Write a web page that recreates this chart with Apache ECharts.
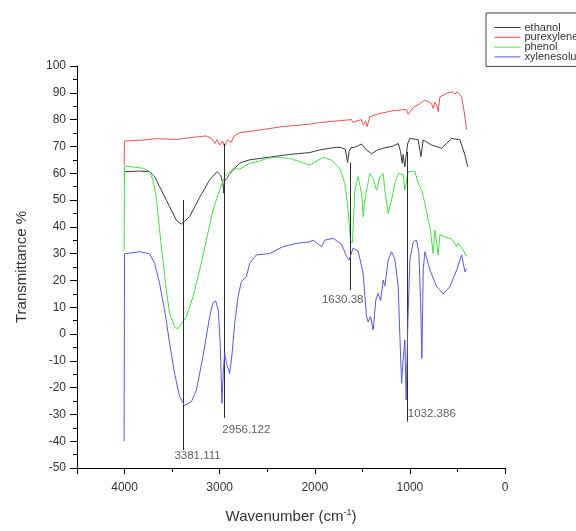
<!DOCTYPE html>
<html>
<head>
<meta charset="utf-8">
<script src="https://cdn.jsdelivr.net/npm/echarts@6/dist/echarts.min.js"></script>
<style>html,body{margin:0;padding:0;background:#fff}#c{width:576px;height:531px}</style>
</head>
<body>
<div id="c"></div>
<script>
// ---- data ----
var seriesNames = ['ethanol', 'purexylene', 'phenol', 'xylenesolu'];

var ethanolWn = [4005,4000,3850,3737,3680,3632,3526,3456,3403,3316,3210,3105,3028,2990,2965,2958,2950,2926,2900,2863,2789,2684,2474,2263,2053,1947,1772,1719,1680,1655,1640,1620,1579,1508,1456,1403,1351,1284,1179,1123,1098,1081,1071,1053,1024,1000,913,884,860,772,667,561,474,421,393];
var ethanolT  = [59.5,60.5,60.8,60.6,58.5,55,47.5,42.5,41,43.8,51,57.5,60.6,59.3,56,52.6,57,58,59.5,61,63.8,65,66,67,67.7,68.7,69.7,69.5,69,64,68,69.5,69.7,70.9,68.7,67.2,68.5,69.3,70.1,71.1,68,63.7,67,62.4,71,73,72.5,66.2,72.4,70.5,69.3,73,72.5,66.8,62.4];

var purexyleneWn = [4005,4000,3800,3660,3450,3280,3140,3085,3050,3030,3000,2970,2950,2915,2880,2845,2790,2580,2340,2050,1950,1740,1615,1600,1510,1490,1465,1450,1420,1315,1175,1035,1018,965,895,842,772,755,736,720,702,684,614,551,526,502,456,432,404];
var purexyleneT  = [63,72,72.4,72.9,72.6,73.4,73.9,73,71.1,72.5,70.5,72,70.1,72.5,71.5,74,75.1,76.1,77.4,78.3,78.9,79.6,80,79,80,78,79.5,77.4,81.1,82.3,83.3,83.8,82,84.5,86,87.3,86,84.2,86.5,85.5,83,88.5,89.8,90.4,89.5,90.4,88.5,83.6,76.3];

var phenolWn = [4005,4000,3800,3737,3702,3667,3632,3596,3561,3526,3474,3438,3350,3280,3210,3140,3070,3000,2947,2860,2790,2684,2580,2509,2400,2263,2158,2053,1912,1824,1737,1684,1649,1625,1605,1590,1579,1544,1508,1491,1474,1421,1386,1351,1316,1281,1263,1228,1193,1158,1123,1071,1053,1018,947,913,877,842,807,789,755,737,702,684,632,561,508,492,439,403];
var phenolT  = [31,62.7,61.8,60.6,57.5,51.2,38.8,27.6,16.4,7.7,2.7,1.9,6.5,13.9,23.9,35,46.3,53.7,58.7,61.8,61.5,63.7,64.5,65.5,66,65.5,64.3,63,65.9,64.9,61.8,56.2,46.3,35,34,45,53.7,58.7,52.5,43.8,50,59.9,58,53.7,58.5,59.9,53.7,45,50,56.2,59.9,59.5,53.7,60.6,60.6,56.2,53.7,48.8,42.5,40,30,38.8,29.5,37,36.3,35.5,32.6,34,31.3,28.9];

var xylenesoluWn = [4005,4000,3842,3737,3684,3632,3579,3526,3474,3421,3368,3298,3245,3176,3105,3071,3042,3014,2993,2976,2961,2947,2929,2913,2895,2871,2842,2807,2772,2719,2684,2614,2474,2334,2193,2053,2018,1929,1895,1807,1719,1666,1639,1597,1544,1492,1456,1439,1414,1386,1358,1334,1308,1281,1263,1228,1193,1158,1123,1105,1087,1071,1053,1039,1021,1000,965,930,905,887,874,860,842,825,789,719,649,579,508,456,421,403];
var xylenesoluT  = [-40,29.9,30.7,30,26.4,18.9,9,-3.5,-14.7,-23.4,-26.7,-25.3,-20.9,-8.5,6.5,11.7,12.4,9,-4.7,-25.9,-13.4,-7.2,-10.9,-11.5,-14.7,-8,4,13.9,19.5,21.4,26.4,29.5,30,32.6,33.8,34.4,35,32.6,35,35.7,33.5,28.9,27.6,32,31,22.6,6.5,4.5,6.5,1.5,12.7,15.2,12.5,20.1,18,27.6,30.7,28,17.7,-1,-18.4,-9.7,-2.2,-24.6,5.2,27.6,34.4,35,30.1,11.5,-9.1,23.9,30.7,30,23.9,17.7,14.9,17.7,23.9,29.5,23.2,24.5];

// peak annotations
var peakWn     = [3381.111, 2956.122, 1630.38, 1032.386];
var peakTop    = [50, 71, 64, 68];
var peakBottom = [-43.3, -31.3, 16.4, -32.7];

var xTicks = [0, 1000, 2000, 3000, 4000];

// ---- chart ----
var FONT = 'Liberation Sans, Arial, sans-serif';
function pairs(xs, ys) { return xs.map(function (x, i) { return [x, ys[i]]; }); }

var colors = ['#3a3a3a', 'rgb(232,82,82)', 'rgb(72,222,72)', 'rgb(88,88,218)'];
var wnArr = [ethanolWn, purexyleneWn, phenolWn, xylenesoluWn];
var tArr = [ethanolT, purexyleneT, phenolT, xylenesoluT];

var series = seriesNames.map(function (n, i) {
  return {
    name: n, type: 'line', data: pairs(wnArr[i], tArr[i]),
    symbol: 'none', showSymbol: false, smooth: false,
    lineStyle: { color: colors[i], width: 1 }, itemStyle: { color: colors[i] },
    z: 2 + i
  };
});

// drop lines
series.push({
  name: 'peaks', type: 'line', data: [], symbol: 'none', z: 10,
  markLine: {
    silent: true, symbol: 'none', animation: false,
    lineStyle: { color: '#2a2a2a', width: 1, type: 'solid' },
    label: { show: false },
    data: peakWn.map(function (w, i) { return [{ coord: [w, peakTop[i]] }, { coord: [w, peakBottom[i]] }]; })
  }
});
// peak labels
var labelOffsets = [[-9, 6], [-1.5, 12], [-28, 10], [1, -8]];
series.push({
  name: 'peakLabels', type: 'scatter', z: 11, symbolSize: 1,
  itemStyle: { color: 'rgba(0,0,0,0)' },
  data: peakWn.map(function (w, i) {
    return {
      value: [w, peakBottom[i]],
      label: { show: true, position: 'inside', align: 'left', verticalAlign: 'middle',
        offset: labelOffsets[i], formatter: String(w),
        color: '#333', fontSize: 11.5, fontFamily: FONT }
    };
  })
});

var chart = echarts.init(document.getElementById('c'), null, { renderer: 'canvas' });
chart.setOption({
  animation: false,
  backgroundColor: '#fff',
  grid: { left: 77, right: 71, top: 66, bottom: 63, containLabel: false },
  legend: {
    data: seriesNames, orient: 'vertical', left: 486, top: 13,
    itemWidth: 26, itemHeight: 9, itemGap: -1.2,
    padding: [9, 12, 4, 8],
    borderColor: '#444', borderWidth: 1,
    itemStyle: { opacity: 0 },
    lineStyle: { width: 1 },
    textStyle: { fontSize: 11, fontFamily: FONT, color: '#333', lineHeight: 9, padding: [0, 0, 0, -1] },
    selectedMode: false
  },
  xAxis: {
    type: 'value', min: 0, max: 4500, interval: 1000, inverse: true,
    name: '{n|Wavenumber (cm}{s|-1}{n|)}', nameLocation: 'middle', nameGap: 40,
    nameTextStyle: { rich: {
      n: { fontSize: 15, fontFamily: FONT, color: '#333' },
      s: { fontSize: 9, fontFamily: FONT, color: '#333', padding: [0, 0, 9, 0] }
    } },
    axisLine: { onZero: false, lineStyle: { color: '#000', width: 1 } },
    axisTick: { show: true, inside: false, length: 6, lineStyle: { color: '#000' } },
    minorTick: { show: true, splitNumber: 2, length: 4, lineStyle: { color: '#000' } },
    axisLabel: { fontSize: 12, fontFamily: FONT, color: '#333', margin: 14,
      formatter: function (v) { return xTicks.indexOf(v) >= 0 ? String(v) : ''; } },
    splitLine: { show: false }, minorSplitLine: { show: false }
  },
  yAxis: {
    type: 'value', min: -50, max: 100, interval: 10,
    name: 'Transmittance %', nameLocation: 'middle', nameGap: 48, nameRotate: 90,
    nameTextStyle: { fontSize: 15, fontFamily: FONT, color: '#333' },
    axisLine: { onZero: false, lineStyle: { color: '#000', width: 1 } },
    axisTick: { show: true, inside: false, length: 7, lineStyle: { color: '#000' } },
    minorTick: { show: true, splitNumber: 2, length: 4, lineStyle: { color: '#000' } },
    axisLabel: { fontSize: 12, fontFamily: FONT, color: '#333', margin: 11 },
    splitLine: { show: false }, minorSplitLine: { show: false }
  },
  series: series
});
</script>
</body>
</html>
